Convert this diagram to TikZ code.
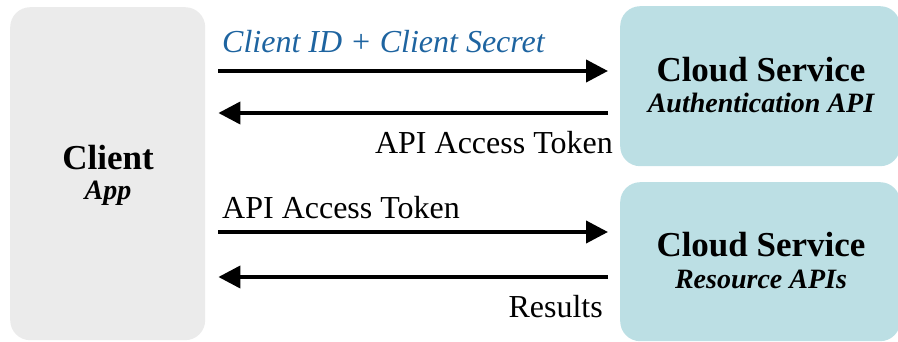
\documentclass[tikz,border=0pt]{standalone}
\usepackage{fontspec}
\setmainfont{Liberation Serif}
\usetikzlibrary{arrows.meta}
\definecolor{clientgray}{RGB}{235,235,235}
\definecolor{cloudblue}{RGB}{188,223,228}
\definecolor{labelblue}{RGB}{30,100,160}
\begin{document}
\begin{tikzpicture}[x=1pt,y=-1pt,
 box/.style={draw=none, rounded corners=20pt, inner sep=0pt, anchor=north west},
 msg/.style={line width=4pt, -{Triangle[length=22pt,width=22pt]}},
 big/.style={font=\fontsize{35}{40}\selectfont\bfseries, anchor=base, inner sep=0pt},
 sub/.style={font=\fontsize{28}{32}\selectfont\bfseries\itshape, anchor=base, inner sep=0pt},
 lbl/.style={font=\fontsize{32}{36}\selectfont, anchor=base west, inner sep=0pt}]
\useasboundingbox (0,0) rectangle (898,342);
\node[box, fill=clientgray, minimum width=195pt, minimum height=333pt] (client) at (10,7) {};
\node[box, fill=cloudblue, minimum width=280pt, minimum height=160pt] (auth) at (620,6) {};
\node[box, fill=cloudblue, minimum width=280pt, minimum height=159pt] (res) at (620,182) {};
\node[big] (clientT) at (108,170) {Client};
\node[sub] (clientS) at (108,200) {App};
\node[big] (authT) at (761,82) {Cloud Service};
\node[sub] (authS) at (761,113) {Authentication API};
\node[big] (resT) at (761,257) {Cloud Service};
\node[sub] (resS) at (761,288) {Resource APIs};
\coordinate (y1) at (0,71);
\coordinate (y2) at (0,113);
\coordinate (y3) at (0,232);
\coordinate (y4) at (0,277);
\draw[msg, shorten <=13pt, shorten >=12pt] (client.east |- y1) -- (auth.west |- y1);
\draw[msg, shorten <=12pt, shorten >=13pt] (auth.west |- y2) -- (client.east |- y2);
\draw[msg, shorten <=13pt, shorten >=12pt] (client.east |- y3) -- (res.west |- y3);
\draw[msg, shorten <=12pt, shorten >=13pt] (res.west |- y4) -- (client.east |- y4);
\node[lbl, text=labelblue, font=\fontsize{32}{36}\selectfont\itshape] (l1) at (222,53) {Client ID + Client Secret};
\node[lbl, anchor=base east] (l2) at (613,154) {API Access Token};
\node[lbl] (l3) at (222,219) {API Access Token};
\node[lbl, anchor=base east] (l4) at (603,317) {Results};
\end{tikzpicture}
\end{document}
